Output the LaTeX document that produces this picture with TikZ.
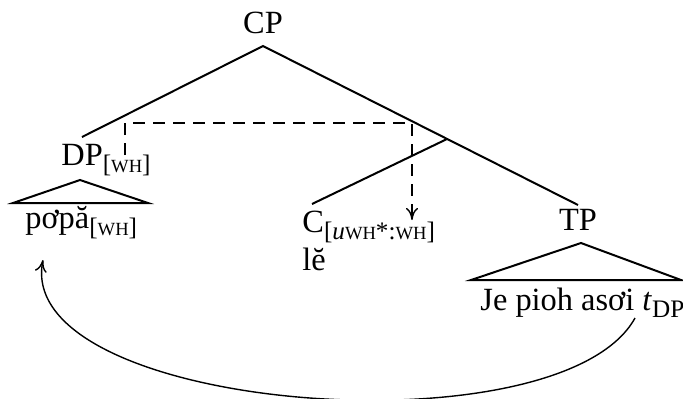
\documentclass[tikz,border=0pt]{standalone}
\usepackage{fontspec}
\setmainfont{Liberation Serif}
\usetikzlibrary{arrows.meta,calc}
\newcommand\sub[1]{\raisebox{-3.8pt}{\fontsize{12.6}{13}\selectfont #1}}
\newcommand\fsc[1]{{\fontsize{9.3}{10}\selectfont #1}}
\tikzset{
  lbl/.style={inner sep=0pt,anchor=base west,font=\fontsize{16.2}{18}\selectfont},
  branch/.style={line width=1pt},
  roof/.style={line width=1pt,line join=miter},
  probe/.style={line width=0.7pt,dash pattern=on 6pt off 4pt,-{To[length=6pt,width=6pt]}},
  movement/.style={line width=0.7pt,-{To[length=6pt,width=6pt]}}
}
\begin{document}
\begin{tikzpicture}[x=0.5pt,y=-0.5pt]
  \useasboundingbox (0,0) rectangle (683,398);
  % labels
  \node[lbl,anchor=base] (cp) at (263,33) {CP};
  \node[lbl] (dp) at (61,165) {DP\sub{[\fsc{WH}]}};
  \node[lbl] (popa) at (25,228) {pơpă\sub{[\fsc{WH}]}};
  \node[lbl] (c) at (302,232) {C\sub{[\textit{u}\fsc{WH}*:\fsc{WH}]}};
  \node[lbl] (le) at (302,270) {lĕ};
  \node[lbl,anchor=base] (tp) at (578,230) {TP};
  \node[lbl] (tdp) at (480,310) {Je pioh asơi \textit{t}\sub{DP}};
  % joints
  \coordinate (cpb) at (263,46);
  \coordinate (dpt) at (82,137);
  \coordinate (tpt) at (578,205);
  \coordinate (cbar) at (447,139);
  \coordinate (ct) at (312,204);
  \draw[branch] (dpt) -- (cpb) -- (tpt);
  \draw[branch] (cbar) -- (ct);
  % roofs
  \coordinate (dproof) at (80,180);
  \coordinate (tproof) at (581,243);
  \draw[roof] (dproof) -- (13,203) -- (148,203) -- cycle;
  \draw[roof] (tproof) -- (471,280) -- (681,280) -- cycle;
  % agree and move
  \coordinate (whsrc) at (125,155);
  \coordinate (goal) at (412,220);
  \draw[probe] (whsrc) -- ++(0,-32) -| (goal);
  \coordinate (trace) at (635,318);
  \coordinate (landing) at (43,260);
  \draw[movement] (trace) .. controls (560,454) and (13,412) .. (landing);
\end{tikzpicture}
\end{document}
